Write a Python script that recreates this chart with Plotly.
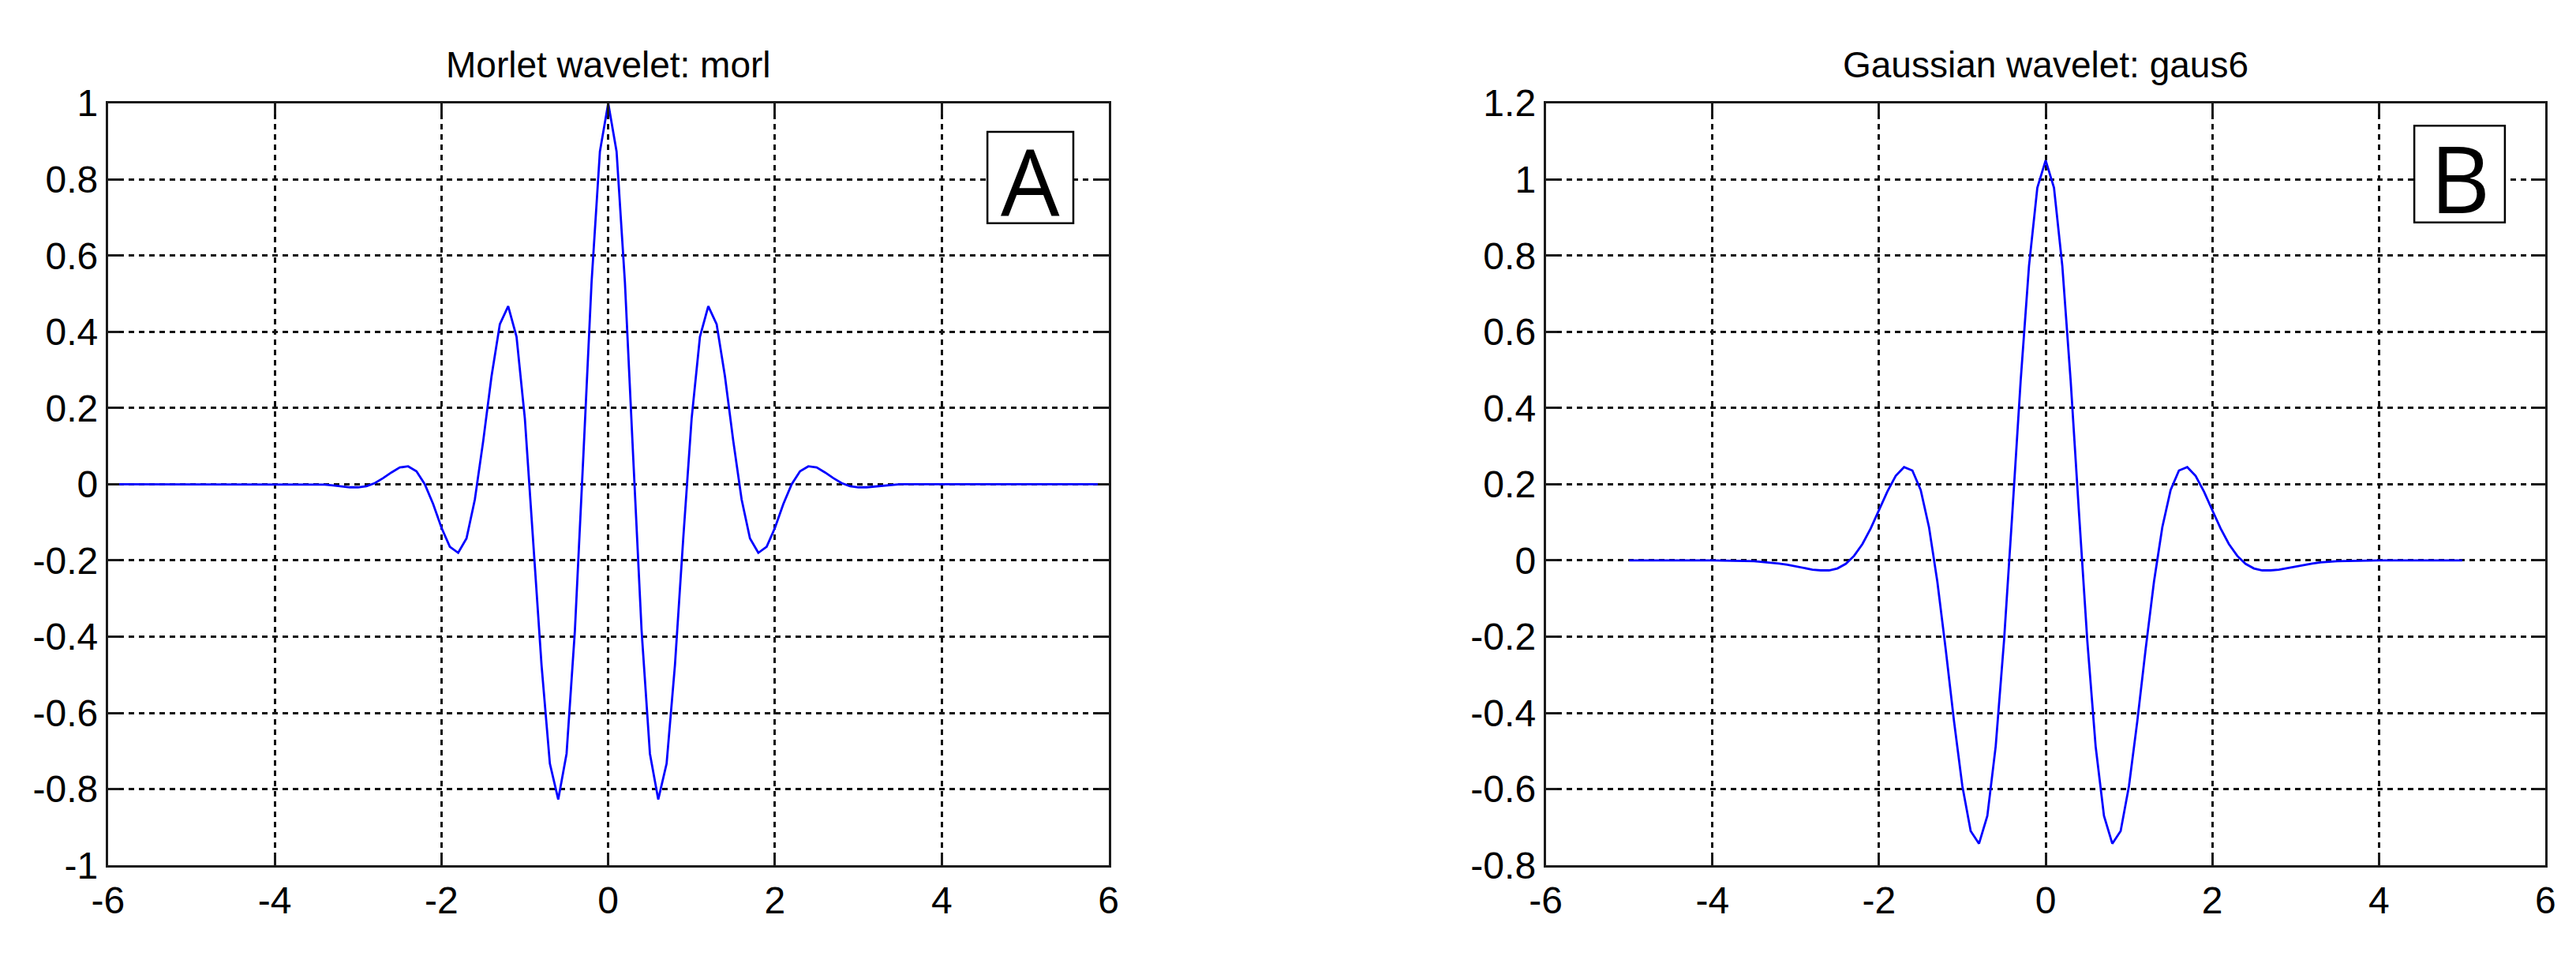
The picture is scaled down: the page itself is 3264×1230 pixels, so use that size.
import plotly.graph_objects as go

# Morlet wavelet (morl)
morl_x = [-6, -5, -4,
          -3.5, -3.4, -3.3, -3.2, -3.1, -3.0, -2.9, -2.8, -2.7, -2.6, -2.5, -2.4,
          -2.3, -2.2, -2.1, -2.0, -1.9, -1.8, -1.7, -1.6, -1.5, -1.4, -1.3, -1.2,
          -1.1, -1.0, -0.9, -0.8, -0.7, -0.6, -0.5, -0.4, -0.3, -0.2, -0.1, 0.0,
          0.1, 0.2, 0.3, 0.4, 0.5, 0.6, 0.7, 0.8, 0.9, 1.0, 1.1, 1.2,
          1.3, 1.4, 1.5, 1.6, 1.7, 1.8, 1.9, 2.0, 2.1, 2.2, 2.3, 2.4,
          2.5, 2.6, 2.7, 2.8, 2.9, 3.0, 3.1, 3.2, 3.3, 3.4, 3.5,
          4, 5, 6]
morl_y = [0.0, 0.0, 0.0,
          0.000, -0.001, -0.003, -0.006, -0.008, -0.008, -0.005, 0.003, 0.016, 0.031, 0.044, 0.047,
          0.034, 0.000, -0.052, -0.114, -0.164, -0.180, -0.142, -0.040, 0.113, 0.283, 0.420, 0.467,
          0.387, 0.172, -0.141, -0.475, -0.733, -0.827, -0.707, -0.384, 0.068, 0.530, 0.873, 1.000,
          0.873, 0.530, 0.068, -0.384, -0.707, -0.827, -0.733, -0.475, -0.141, 0.172, 0.387, 0.467,
          0.420, 0.283, 0.113, -0.040, -0.142, -0.180, -0.164, -0.114, -0.052, 0.000, 0.034, 0.047,
          0.044, 0.031, 0.016, 0.003, -0.005, -0.008, -0.008, -0.006, -0.003, -0.001, 0.000,
          0.0, 0.0, 0.0]

# Gaussian wavelet (gaus6)
gaus_x = [-5, -4,
          -3.5, -3.4, -3.3, -3.2, -3.1, -3.0, -2.9, -2.8, -2.7, -2.6, -2.5, -2.4,
          -2.3, -2.2, -2.1, -2.0, -1.9, -1.8, -1.7, -1.6, -1.5, -1.4, -1.3, -1.2,
          -1.1, -1.0, -0.9, -0.8, -0.7, -0.6, -0.5, -0.4, -0.3, -0.2, -0.1, 0.0,
          0.1, 0.2, 0.3, 0.4, 0.5, 0.6, 0.7, 0.8, 0.9, 1.0, 1.1, 1.2,
          1.3, 1.4, 1.5, 1.6, 1.7, 1.8, 1.9, 2.0, 2.1, 2.2, 2.3, 2.4,
          2.5, 2.6, 2.7, 2.8, 2.9, 3.0, 3.1, 3.2, 3.3, 3.4, 3.5,
          4, 5]
gaus_y = [0.0, 0.0,
          -0.002, -0.004, -0.005, -0.008, -0.011, -0.015, -0.020, -0.024, -0.026, -0.026, -0.021, -0.009,
          0.012, 0.043, 0.084, 0.132, 0.181, 0.222, 0.245, 0.236, 0.185, 0.087, -0.056, -0.233,
          -0.422, -0.592, -0.710, -0.743, -0.670, -0.488, -0.211, 0.125, 0.472, 0.773, 0.978, 1.050,
          0.978, 0.773, 0.472, 0.125, -0.211, -0.488, -0.670, -0.743, -0.710, -0.592, -0.422, -0.233,
          -0.056, 0.087, 0.185, 0.236, 0.245, 0.222, 0.181, 0.132, 0.084, 0.043, 0.012, -0.009,
          -0.021, -0.026, -0.026, -0.024, -0.020, -0.015, -0.011, -0.008, -0.005, -0.004, -0.002,
          0.0, 0.0]

x_ticks = [-6, -4, -2, 0, 2, 4, 6]
x_labels = ["-6", "-4", "-2", "0", "2", "4", "6"]
morl_yticks = [-1, -0.8, -0.6, -0.4, -0.2, 0, 0.2, 0.4, 0.6, 0.8, 1]
morl_ylabels = ["-1", "-0.8", "-0.6", "-0.4", "-0.2", "0", "0.2", "0.4", "0.6", "0.8", "1"]
gaus_yticks = [-0.8, -0.6, -0.4, -0.2, 0, 0.2, 0.4, 0.6, 0.8, 1, 1.2]
gaus_ylabels = ["-0.8", "-0.6", "-0.4", "-0.2", "0", "0.2", "0.4", "0.6", "0.8", "1", "1.2"]

W, H = 3264, 1230
FONT = "Liberation Sans, Arial, sans-serif"

fig = go.Figure()
fig.add_trace(go.Scatter(x=morl_x, y=morl_y, mode="lines",
                         line=dict(color="#0000FF", width=2.8),
                         xaxis="x", yaxis="y", showlegend=False))
fig.add_trace(go.Scatter(x=gaus_x, y=gaus_y, mode="lines",
                         line=dict(color="#0000FF", width=2.8),
                         xaxis="x2", yaxis="y2", showlegend=False))

axis_style = dict(
    showline=True, linecolor="#1a1a1a", linewidth=3, mirror="allticks",
    ticks="inside", ticklen=14, tickwidth=2.5, tickcolor="#1a1a1a",
    showgrid=True, gridcolor="#111111", gridwidth=2.5, griddash="7px,6px",
    zeroline=False, tickfont=dict(family=FONT, size=48, color="black"),
)

left_dom = [109 / W, 1390 / W]
right_dom = [1950 / W, 3230 / W]
y_dom = [(H - 1110) / H, (H - 101) / H]

fig.update_layout(
    width=W, height=H,
    margin=dict(l=0, r=0, t=0, b=0),
    paper_bgcolor="white", plot_bgcolor="white",
    xaxis=dict(domain=left_dom, range=[-6, 6], tickvals=x_ticks, ticktext=x_labels,
               anchor="y", **axis_style),
    yaxis=dict(domain=y_dom, range=[-1, 1], tickvals=morl_yticks, ticktext=morl_ylabels,
               anchor="x", **axis_style),
    xaxis2=dict(domain=right_dom, range=[-6, 6], tickvals=x_ticks, ticktext=x_labels,
                anchor="y2", **axis_style),
    yaxis2=dict(domain=y_dom, range=[-0.8, 1.2], tickvals=gaus_yticks, ticktext=gaus_ylabels,
                anchor="x2", **axis_style),
)

# titles
for cx, txt in [((109 + 1390) / 2, "Morlet wavelet: morl"),
                ((1950 + 3230) / 2, "Gaussian wavelet: gaus6")]:
    fig.add_annotation(x=cx / W, y=(H - 50) / H, xref="paper", yref="paper",
                       text=txt, showarrow=False, xanchor="center", yanchor="middle",
                       font=dict(family=FONT, size=46, color="black"))

# boxed panel letters
for (x0, x1, y0, y1), letter in [((1235, 1345, 139, 260), "A"),
                                 ((3062, 3178, 131, 259), "B")]:
    fig.add_shape(type="rect", xref="paper", yref="paper",
                  x0=x0 / W, x1=x1 / W, y0=(H - y1) / H, y1=(H - y0) / H,
                  line=dict(color="black", width=2.5), fillcolor="white")
    fig.add_annotation(x=(x0 + x1) / 2 / W, y=(H - (y0 + y1) / 2) / H,
                       xref="paper", yref="paper", text=letter, showarrow=False,
                       xanchor="center", yanchor="middle", yshift=-4,
                       font=dict(family="Open Sans, Noto Sans, sans-serif", size=118, color="black"))

fig.write_html("out.html")
